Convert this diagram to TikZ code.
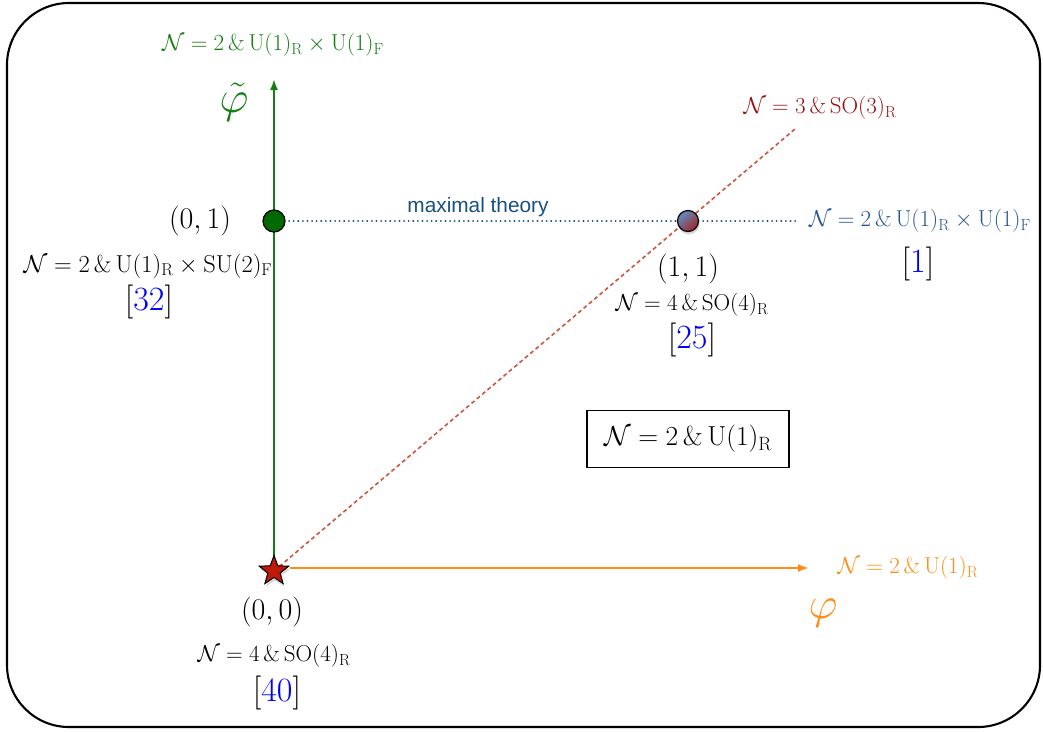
\RequirePackage{fix-cm}
\documentclass[tikz,border=0pt]{standalone}
\usepackage{amsmath}
\usepackage{xcolor}
\usepackage{fontspec}
\newfontfamily\helv{Liberation Sans}
\usetikzlibrary{shapes.geometric,arrows.meta,shadows}
\definecolor{axgreen}{RGB}{20,125,20}
\definecolor{dotgreen}{RGB}{0,105,0}
\definecolor{axorange}{RGB}{255,140,20}
\definecolor{maxblue}{RGB}{25,80,130}
\definecolor{labblue}{RGB}{40,85,145}
\definecolor{dred}{RGB}{150,20,20}
\definecolor{dashred}{RGB}{205,85,65}
\definecolor{refblue}{RGB}{0,0,255}
\definecolor{starred}{RGB}{190,25,10}
\newcommand{\fsz}[1]{\fontsize{#1}{#1}\selectfont}
\newcommand{\rf}[1]{$[\textcolor{refblue}{#1}]$}
\tikzset{
  lbl/.style={inner sep=0pt, font=\fsz{23}},
  coordlbl/.style={inner sep=0pt, font=\fsz{30}},
  reflbl/.style={inner sep=0pt, font=\fsz{34}},
  axislbl/.style={inner sep=0pt, font=\fsz{45}},
}
\begin{document}
\begin{tikzpicture}[x=1pt,y=-1pt]
\useasboundingbox (0,0) rectangle (1043,731);
\fill[white] (0,0) rectangle (1043,731);
% frame
\draw[line width=2.1pt, rounded corners=62pt] (7,3) rectangle (1040,727);

% points
\coordinate (O) at (274,571);
\coordinate (ytip) at (274,79);
\coordinate (xtip) at (809,568);
\coordinate (xstart) at (290,568);
\coordinate (dend) at (795,129);
\coordinate (bstart) at (289,221);
\coordinate (bend) at (797,221);

% axes
\draw[axgreen, line width=2pt, -{Latex[length=11pt,width=8pt]}] (O) -- (ytip);
\draw[axorange, line width=2pt, -{Latex[length=11pt,width=8pt]}] (xstart) -- (xtip);
\draw[dashred, line width=1.6pt, dash pattern=on 4pt off 3pt] (O) -- (dend);
\draw[maxblue, line width=2pt, dash pattern=on 0.1pt off 4.5pt, line cap=round] (bstart) -- (bend);

% dots
\node[circle, draw=black, line width=1.2pt, fill=dotgreen, minimum size=22pt, inner sep=0pt] (P01) at (274,221) {};
\node[circle, draw=black, line width=1.2pt, minimum size=21pt, inner sep=0pt,
  drop shadow={shadow xshift=1pt, shadow yshift=-3pt, opacity=0.3},
  top color={rgb,255:red,95;green,140;blue,195}, bottom color={rgb,255:red,160;green,40;blue,40}, shading angle=40] (P11) at (688,221) {};
\node[star, star points=5, star point ratio=2.4, draw=black, line width=1pt, fill=starred, minimum size=31pt, inner sep=0pt,
  drop shadow={shadow xshift=1pt, shadow yshift=-3pt, opacity=0.3}] (P00) at (274,571) {};

% labels top
\node[lbl, text=axgreen] (ytop) at (273,45) {$\mathcal{N}=2\,\&\,\mathrm{U}(1)_{\mathrm{R}}\times\mathrm{U}(1)_{\mathrm{F}}$};
\node[axislbl, text=axgreen] (phit) at (234,102) {$\tilde{\varphi}$};

% (0,1)
\node[coordlbl] (c01) at (200,221) {$(0,1)$};
\node[lbl, font=\fsz{24.5}] (n01) at (148,266) {$\mathcal{N}=2\,\&\,\mathrm{U}(1)_{\mathrm{R}}\times\mathrm{SU}(2)_{\mathrm{F}}$};
\node[reflbl] (r01) at (149,302) {\rf{32}};

% maximal theory
\node[inner sep=0pt, text=maxblue, font=\helv\fsz{20.8}] (maxth) at (478,207) {maximal theory};

% N=3 label
\node[lbl, text=dred] (n3) at (820,108) {$\mathcal{N}=3\,\&\,\mathrm{SO}(3)_{\mathrm{R}}$};

% right blue label
\node[lbl, text=labblue] (nb) at (920,221) {$\mathcal{N}=2\,\&\,\mathrm{U}(1)_{\mathrm{R}}\times\mathrm{U}(1)_{\mathrm{F}}$};
\node[reflbl] (rb) at (918,264) {\rf{1}};

% (1,1)
\node[coordlbl] (c11) at (688,269) {$(1,1)$};
\node[lbl] (n11) at (692,305) {$\mathcal{N}=4\,\&\,\mathrm{SO}(4)_{\mathrm{R}}$};
\node[reflbl] (r11) at (692,340) {\rf{25}};

% boxed
\node[draw=black, line width=1.6pt, minimum width=202pt, minimum height=57pt, inner sep=0pt, font=\fsz{27.5}] (bx) at (688,439) {$\mathcal{N}=2\,\&\,\mathrm{U}(1)_{\mathrm{R}}$};

% orange
\node[lbl, text=axorange] (no) at (908,568) {$\mathcal{N}=2\,\&\,\mathrm{U}(1)_{\mathrm{R}}$};
\node[axislbl, text=axorange] (phi) at (823,613) {$\varphi$};

% (0,0)
\node[coordlbl] (c00) at (272,612) {$(0,0)$};
\node[lbl] (n00) at (274,656) {$\mathcal{N}=4\,\&\,\mathrm{SO}(4)_{\mathrm{R}}$};
\node[reflbl] (r00) at (277,693) {\rf{40}};
\end{tikzpicture}
\end{document}
